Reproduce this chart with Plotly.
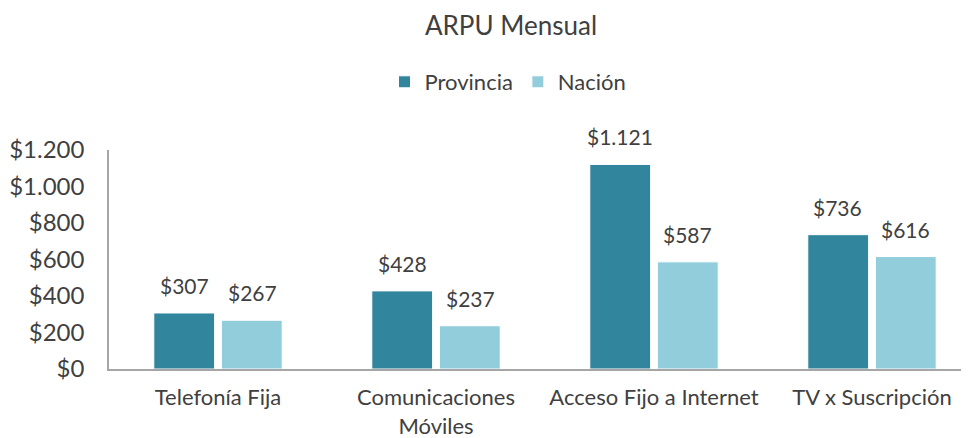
import plotly.graph_objects as go

categories = ["Telefonía Fija", "Comunicaciones<br>Móviles", "Acceso Fijo a Internet", "TV x Suscripción"]
provincia = [307, 428, 1121, 736]
nacion = [267, 237, 587, 616]
series_names = ["Provincia", "Nación"]
colors = ["#31859C", "#92CDDC"]
tick_vals = [0, 200, 400, 600, 800, 1000, 1200]

def fmt(v):
    return "$" + f"{v:,}".replace(",", ".")

FONT = "Lato, Open Sans, sans-serif"
TXT = "#404040"
W, H = 961, 430

fig = go.Figure()
for name, vals, col in zip(series_names, [provincia, nacion], colors):
    fig.add_trace(go.Bar(
        name=name, x=categories, y=vals,
        marker=dict(color=col, line=dict(color="white", width=1)),
        hoverinfo="skip",
    ))

offsets = [-34, 34]
for vals, dx in zip([provincia, nacion], offsets):
    for c, v in zip(categories, vals):
        fig.add_annotation(x=c, y=v, text=fmt(v), showarrow=False,
                           xshift=dx, yshift=13, yanchor="bottom",
                           font=dict(family=FONT, size=21, color=TXT))

fig.update_layout(
    width=W, height=H,
    paper_bgcolor="white", plot_bgcolor="white",
    margin=dict(l=101, r=0, t=142, b=69, autoexpand=False),
    barmode="group", bargap=0.38, bargroupgap=0.1,
    font=dict(family=FONT, color=TXT),
    title=dict(text="ARPU Mensual", x=503/W, xanchor="center", xref="container",
               y=1 - 18/H, yanchor="middle", yref="container",
               font=dict(family=FONT, size=26, color=TXT)),
    legend=dict(orientation="h", x=500/W, xanchor="center", xref="container",
                y=1 - 74/H, yanchor="middle", yref="container",
                font=dict(family=FONT, size=22, color=TXT), itemwidth=30,
                traceorder="normal"),
    showlegend=True,
)
fig.update_xaxes(range=[-0.5, 3.445], showline=True, linecolor="#a6a6a6", linewidth=1.5,
                 ticks="outside", ticklen=8, tickcolor="rgba(0,0,0,0)",
                 automargin=False,
                 tickfont=dict(family=FONT, size=22, color=TXT), showgrid=False)
fig.update_yaxes(range=[0, 1200], tickvals=tick_vals,
                 ticktext=[fmt(v) for v in tick_vals],
                 showline=True, linecolor="#a6a6a6", linewidth=1.5, showgrid=False,
                 zeroline=False, ticks="outside", ticklen=18, tickcolor="rgba(0,0,0,0)",
                 automargin=False,
                 tickfont=dict(family=FONT, size=24, color=TXT))

fig.write_html("out.html")
